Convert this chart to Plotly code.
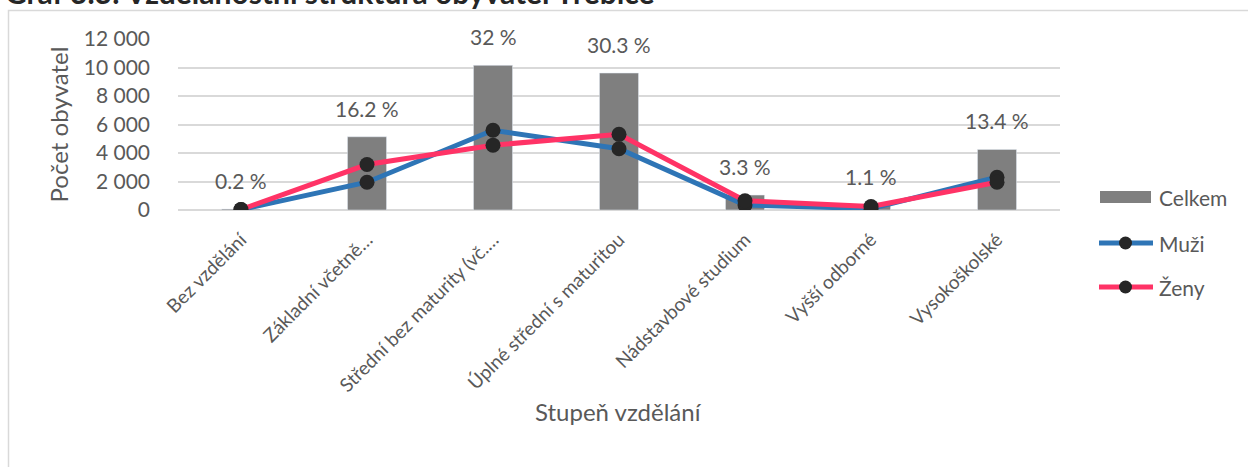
import plotly.graph_objects as go

categories = ["Bez vzdělání", "Základní včetně…", "Střední bez maturity (vč.…",
              "Úplné střední s maturitou", "Nádstavbové studium", "Vyšší odborné", "Vysokoškolské"]
celkem = [63, 5140, 10150, 9610, 1047, 350, 4250]
muzi = [30, 1950, 5600, 4300, 350, 100, 2300]
zeny = [33, 3190, 4550, 5310, 650, 250, 1950]
pct_labels = ["0.2 %", "16.2 %", "32 %", "30.3 %", "3.3 %", "1.1 %", "13.4 %"]
y_ticks = [0, 2000, 4000, 6000, 8000, 10000, 12000]

FONT = "Lato"
GRAY_TXT = "#595959"
BLUE = "#2e75b6"
PINK = "#ff3366"
DOT = "#262626"

W, H = 1248, 467
L, T = 178, 39
R = W - 1060
B = H - 210
PW, PH = W - L - R, H - T - B

def px(x):
    return (x - L) / PW

def py(y):
    return (H - B - y) / PH

fig = go.Figure()
fig.add_trace(go.Bar(x=categories, y=celkem, name="Celkem", marker_color="#7f7f7f",
                     width=0.31, showlegend=False))
fig.add_trace(go.Scatter(x=categories, y=muzi, name="Muži", mode="lines+markers",
                         line=dict(color=BLUE, width=5),
                         marker=dict(color=DOT, size=15), showlegend=False))
fig.add_trace(go.Scatter(x=categories, y=zeny, name="Ženy", mode="lines+markers",
                         line=dict(color=PINK, width=5),
                         marker=dict(color=DOT, size=15), showlegend=False))

annotations = []
for c, v, t in zip(categories, celkem, pct_labels):
    annotations.append(dict(x=c, y=v, text=t, showarrow=False, yanchor="bottom",
                            yshift=14, font=dict(family=FONT, size=21, color=GRAY_TXT)))

# title (partially cut off at top)
annotations.append(dict(xref="paper", yref="paper", x=px(3), y=py(12), xanchor="left",
                        yanchor="bottom", showarrow=False,
                        text="<b>Graf 3.3: Vzdělanostní struktura obyvatel Třebíče</b>",
                        font=dict(family=FONT, size=30, color="#262626")))
# x axis title
annotations.append(dict(xref="paper", yref="paper", x=px(618), y=py(428), showarrow=False,
                        text="Stupeň vzdělání", font=dict(family=FONT, size=24, color=GRAY_TXT)))

# manual legend
shapes = []
leg_items = [("Celkem", 197, "bar", "#7f7f7f"), ("Muži", 243, "line", BLUE), ("Ženy", 287, "line", PINK)]
for name, ycen, kind, col in leg_items:
    if kind == "bar":
        shapes.append(dict(type="rect", xref="paper", yref="paper", x0=px(1100), x1=px(1151),
                           y0=py(ycen - 6), y1=py(ycen + 6), fillcolor=col, line=dict(width=0)))
    else:
        shapes.append(dict(type="line", xref="paper", yref="paper", x0=px(1099), x1=px(1153),
                           y0=py(ycen), y1=py(ycen), line=dict(color=col, width=5)))
        shapes.append(dict(type="circle", xref="paper", yref="paper", x0=px(1119), x1=px(1132),
                           y0=py(ycen + 6.5), y1=py(ycen - 6.5), fillcolor=DOT,
                           line=dict(width=0)))
    annotations.append(dict(xref="paper", yref="paper", x=px(1157), y=py(ycen), xanchor="left",
                            yanchor="middle", showarrow=False, text=name,
                            font=dict(family=FONT, size=21, color=GRAY_TXT)))

# outer chart border
shapes.append(dict(type="rect", xref="paper", yref="paper", x0=px(8.5), x1=px(1270),
                   y0=py(490), y1=py(10.5), line=dict(color="#d9d9d9", width=1.5),
                   fillcolor="rgba(0,0,0,0)", layer="below"))

fig.update_layout(
    width=W, height=H, margin=dict(l=L, r=R, t=T, b=B, autoexpand=False),
    paper_bgcolor="white", plot_bgcolor="white", separators=", ",
    font=dict(family=FONT, color=GRAY_TXT),
    showlegend=False,
    annotations=annotations, shapes=shapes,
)
fig.update_xaxes(tickangle=-45, tickfont=dict(size=19, color=GRAY_TXT), showgrid=False,
                 showline=False, ticks="", automargin=False, ticklabelstandoff=14)
fig.update_yaxes(range=[0, 12000], tickvals=y_ticks, tickformat=",", showgrid=True,
                 gridcolor="#d9d9d9", gridwidth=1.5, zeroline=True, zerolinecolor="#d9d9d9",
                 zerolinewidth=1.5, showline=False, ticks="", ticklabelstandoff=27,
                 tickfont=dict(size=21, color=GRAY_TXT), automargin=False,
                 title=dict(text="Počet obyvatel", standoff=8,
                            font=dict(size=24, color=GRAY_TXT)))

fig.write_html("out.html", config={"displayModeBar": False},
               post_script="document.body.style.margin='0';")
